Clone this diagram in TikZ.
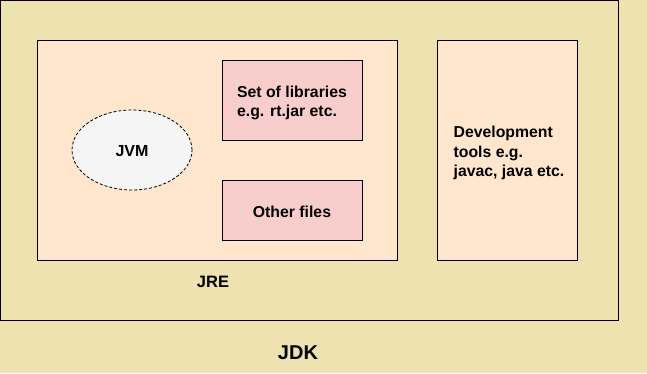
\documentclass[tikz,border=0pt]{standalone}
\usepackage{fontspec}
\setmainfont{Liberation Sans}
\usetikzlibrary{shapes.geometric}

\definecolor{jdkfill}{RGB}{238,226,176}
\definecolor{jrefill}{RGB}{255,230,204}
\definecolor{libfill}{RGB}{248,206,204}
\definecolor{jvmfill}{RGB}{245,245,245}

\begin{document}
\begin{tikzpicture}[x=1pt,y=-1pt,
  box/.style={draw,line width=1pt,inner sep=0pt},
  label text/.style={font=\fontsize{15.8}{19.5}\selectfont\bfseries,align=left}]

  % background and frame
  \fill[jdkfill] (0,0) rectangle (647,373);
  \useasboundingbox (0,0) rectangle (647,373);

  \node[box,fill=jdkfill,minimum width=617.5,minimum height=319.5] (jdk) at (309.25,160.25) {};
  \node[box,fill=jrefill,minimum width=360,minimum height=220] (jre) at (217,150) {};
  \node[box,fill=jrefill,minimum width=140,minimum height=220] (devtools) at (507,150) {};

  \node[box,fill=libfill,minimum width=140,minimum height=80] (libs) at (292,100) {};
  \node[box,fill=libfill,minimum width=140,minimum height=60] (other) at (292,210) {};
  \node[ellipse,draw,line width=0.8pt,dash pattern=on 3pt off 2pt,fill=jvmfill,
    minimum width=120,minimum height=80,inner sep=0pt] (jvm) at (132,150) {};

  % texts
  \node[label text] (libstext) at ([yshift=-3]libs.center) {Set of libraries\\e.g. rt.jar etc.};
  \node[label text] (othertext) at ([yshift=-2]other.center) {Other files};
  \node[label text] (devtext) at ([xshift=2,yshift=-3]devtools.center) {Development\\tools e.g.\\javac, java etc.};
  \node[font=\fontsize{16}{18}\selectfont\bfseries] (jvmtext) at ([yshift=-1]jvm.center) {JVM};
  \node[font=\fontsize{16.5}{18}\selectfont\bfseries] (jrelabel) at (213,282) {JRE};
  \node[font=\fontsize{20}{22}\selectfont\bfseries] (jdklabel) at (298,353) {JDK};

\end{tikzpicture}
\end{document}
